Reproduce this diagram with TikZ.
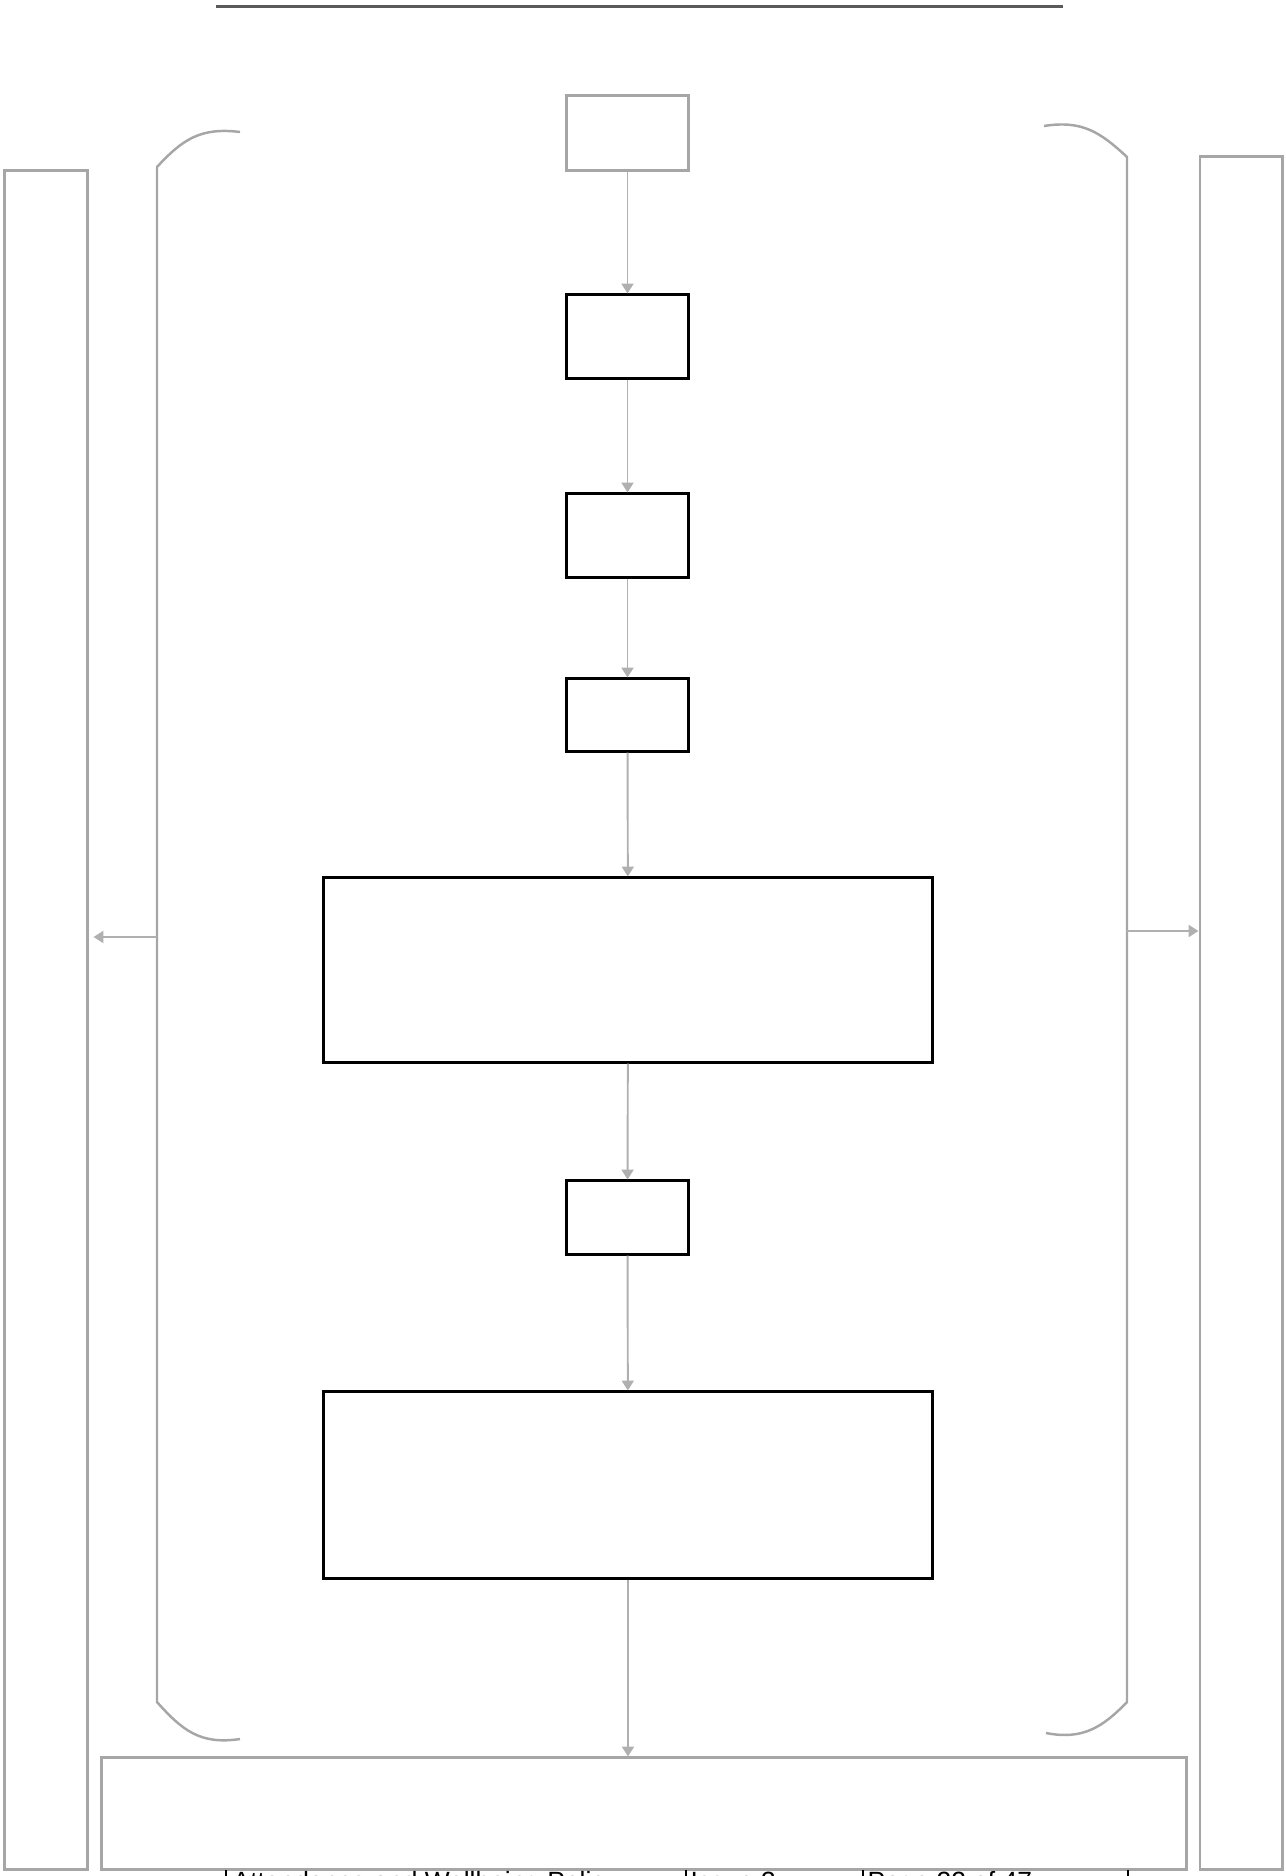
\documentclass[tikz,border=0pt]{standalone}
\usepackage{fontspec}
\setmainfont{Liberation Sans}
\usepackage{tikz}
\usetikzlibrary{positioning, arrows.meta}

\definecolor{boxgray}{HTML}{A6A6A6}
\definecolor{linkgray}{HTML}{B0B0B0}
\definecolor{rulegray}{HTML}{5A5A5A}

\begin{document}
\begin{tikzpicture}[
    x=0.01cm, y=-0.01cm,
    font=\fontsize{7.5pt}{8.5pt}\selectfont,
    step box/.style={
        rectangle,
        draw=black,
        line width=0.85pt,
        inner sep=0pt,
        minimum width=1.21cm
    },
    wide box/.style={
        step box,
        minimum width=6.08cm
    },
    side box/.style={
        rectangle,
        draw=boxgray,
        line width=0.85pt,
        inner sep=0pt
    },
    bracket/.style={draw=boxgray, line width=0.7pt},
    link/.style={-{Triangle[width=3.4pt,length=2.8pt]}, draw=linkgray, fill=linkgray, line width=0.55pt}
]

\useasboundingbox (0,0) rectangle (1286,1876);
\clip (0,0) rectangle (1286,1876);

% Header rule
\draw[rulegray, line width=0.85pt] (216,7) -- (1063,7);

% Steps
\node[side box, minimum width=1.21cm, minimum height=0.74cm] (start) at (627.5,133) {};
\node[step box, minimum height=0.83cm] (s1) at (627.5,336.5) {};
\node[step box, minimum height=0.83cm] (s2) at (627.5,535.5) {};
\node[step box, minimum height=0.72cm] (s3) at (627.5,715) {};
\node[wide box, minimum height=1.84cm] (w1) at (628,970) {};
\node[step box, minimum height=0.73cm] (s4) at (627.5,1217.5) {};
\node[wide box, minimum height=1.86cm] (w2) at (628,1485) {};

% Outer boxes
\node[side box, minimum width=10.84cm, minimum height=1.11cm] (outcome) at (644,1813.5) {};
\node[side box, minimum width=0.82cm, minimum height=16.98cm] (lbar) at (46,1020) {};
\node[side box, minimum width=0.82cm, minimum height=17.12cm] (rbar) at (1241,1013) {};

% Brackets
\draw[bracket] (240,132) .. controls (200,127) and (182,140) .. (157,167)
    -- (157,1702) .. controls (182,1730) and (200,1745) .. (240,1739);
\draw[bracket] (1044,126) .. controls (1082,120) and (1100,132) .. (1127,157)
    -- (1127,1702) .. controls (1102,1728) and (1082,1740) .. (1046,1733);
\coordinate (lhook) at (157,937);
\coordinate (rhook) at (1127,931);

% Links
\draw[link] (start) -- (s1);
\draw[link] (s1) -- (s2);
\draw[link] (s2) -- (s3);
\draw[link] (s3) -- (w1);
\draw[link] (w1) -- (s4);
\draw[link] (s4) -- (w2);
\draw[link] (w2.south) -- (w2.south |- outcome.north);
\draw[link] (lhook) -- ([xshift=0.05cm]lbar.east |- lhook);
\draw[link] (rhook) -- (rbar.west |- rhook);

% Footer
\foreach \fx in {226, 686, 863, 1128}
    \draw[black, line width=0.3pt] (\fx,1870) -- (\fx,1900);
\node[anchor=base west, inner sep=0pt] (ftitle) at (232,1890) {Attendance and Wellbeing Policy};
\node[anchor=base west, inner sep=0pt] (fissue) at (690,1890) {Issue 3};
\node[anchor=base west, inner sep=0pt] (fpage) at (867,1890) {Page 22 of 47};

\end{tikzpicture}
\end{document}
